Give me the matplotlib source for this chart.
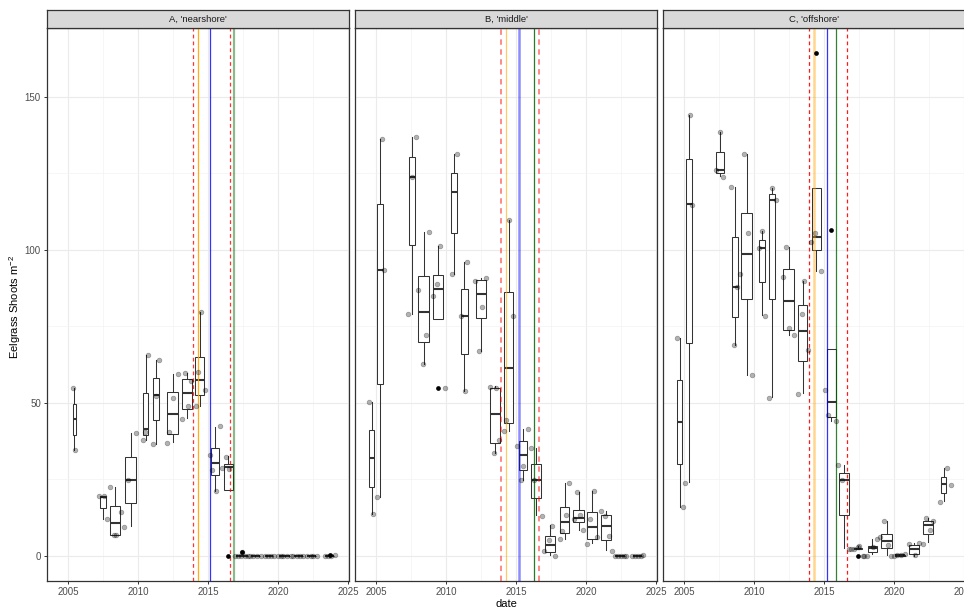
import numpy as np
import matplotlib
matplotlib.use("Agg")
import matplotlib.pyplot as plt
from matplotlib.patches import Rectangle

plt.rcParams['font.family'] = ['Liberation Sans', 'DejaVu Sans']
plt.rcParams['mathtext.default'] = 'regular'

# ---------------------------------------------------------------------------
# data (dates as decimal years, shoots per m2)
# ---------------------------------------------------------------------------
panel_titles = ["A, 'nearshore'", "B, 'middle'", "C, 'offshore'"]

# --- A, nearshore: sampling window of each box and box statistics
a_first = [2005.32, 2007.26, 2007.96, 2009.03, 2010.34, 2011.05, 2012.03, 2013.13, 2014.06,
           2015.16, 2016.06, 2016.93, 2018.02, 2019.05, 2020.00, 2021.07, 2022.02, 2023.33]
a_last = [2005.58, 2007.76, 2008.78, 2009.90, 2010.76, 2011.52, 2012.90, 2013.90, 2014.75,
          2015.82, 2016.82, 2017.86, 2018.76, 2019.69, 2020.88, 2021.79, 2022.74, 2024.05]
a_q1 = [39.4, 15.6, 6.7, 17.2, 39.4, 44.3, 39.7, 47.9, 52.7, 26.3, 21.4, 0, 0, 0, 0, 0, 0, 0]
a_med = [44.7, 19.3, 10.8, 24.9, 41.5, 52.4, 46.3, 53.1, 57.3, 30.5, 29.1, 0, 0, 0, 0, 0, 0, 0]
a_q3 = [49.6, 19.5, 16.4, 32.4, 53.1, 58.0, 53.5, 57.7, 64.9, 35.2, 29.9, 0, 0, 0, 0, 0, 0, 0]
a_lo = [34.7, 12.1, 6.7, 9.8, 37.8, 36.6, 37.1, 44.9, 48.8, 21.3, 21.4, 0, 0, 0, 0, 0, 0, 0]
a_hi = [54.8, 19.5, 22.5, 40.1, 65.5, 64.0, 59.3, 59.7, 79.5, 42.1, 32.5, 0, 0, 0, 0, 0, 0, 0]
a_out = [[], [], [], [], [], [], [], [], [], [], [0.0], [1.2], [], [], [], [], [], [0.4]]
a_pt_date = [2005.36, 2005.52, 2007.19, 2007.57, 2007.79, 2008.02, 2008.31, 2008.40, 2008.79,
             2009.00, 2009.29, 2009.83, 2010.33, 2010.52, 2010.74, 2011.05, 2011.31, 2011.50,
             2012.05, 2012.24, 2012.48, 2012.88, 2013.10, 2013.38, 2013.55, 2013.81,
             2014.10, 2014.31, 2014.52, 2014.76, 2015.14, 2015.29, 2015.55, 2015.81,
             2016.00, 2016.29, 2016.50,
             2016.93, 2017.10, 2017.31, 2017.38, 2017.62, 2017.86, 2018.02, 2018.21, 2018.45,
             2018.76, 2019.05, 2019.29, 2019.45, 2019.69, 2020.00, 2020.17, 2020.36, 2020.64,
             2020.88, 2021.07, 2021.31, 2021.55, 2021.79, 2022.02, 2022.31, 2022.50, 2022.74,
             2023.33, 2023.57, 2023.76, 2024.05]
a_pt_val = [54.8, 34.7, 19.5, 19.4, 11.9, 22.5, 6.7, 6.7, 14.3,
            9.5, 24.9, 40.1, 37.8, 40.4, 65.5, 36.4, 52.3, 64.1,
            37.0, 40.5, 51.7, 59.3, 44.6, 59.7, 49.0, 57.2,
            48.8, 60.2, 79.5, 54.1, 33.0, 27.9, 21.2, 42.3,
            28.8, 32.3, 28.4,
            0, 0, 0, 1.2, 0, 0, 0, 0, 0,
            0, 0, 0, 0, 0, 0, 0, 0, 0,
            0, 0, 0, 0, 0, 0, 0, 0, 0,
            0, 0, 0, 0.4]
a_event_date = [2013.93, 2014.29, 2015.14, 2016.57, 2016.81]
a_event_kind = ["heat", "orange", "blue", "heat", "green"]

# --- B, middle
b_first = [2004.51, 2005.07, 2007.30, 2007.98, 2009.00, 2010.35, 2011.06, 2012.06, 2013.11, 2014.11,
           2015.18, 2016.00, 2017.00, 2018.10, 2019.02, 2020.02, 2021.04, 2022.03, 2023.27]
b_last = [2004.87, 2005.55, 2007.83, 2008.82, 2009.84, 2010.77, 2011.56, 2012.90, 2013.85, 2014.82,
          2015.82, 2016.82, 2017.82, 2018.84, 2019.89, 2020.81, 2021.81, 2022.81, 2024.05]
b_q1 = [22.6, 56.2, 101.5, 69.7, 77.4, 105.4, 66.0, 77.8, 37.0, 43.4,
        28.0, 18.8, 1.2, 7.4, 11.0, 5.6, 5.2, 0, 0]
b_med = [32.1, 93.4, 123.9, 79.5, 87.1, 118.8, 78.4, 85.5, 46.5, 61.5,
         32.8, 24.8, 3.6, 11.1, 12.5, 9.3, 9.8, 0, 0]
b_q3 = [41.0, 115.0, 130.3, 91.4, 91.7, 125.0, 87.0, 90.0, 54.8, 86.3,
        37.4, 30.0, 6.4, 15.9, 14.9, 14.3, 13.2, 0, 0]
b_lo = [13.8, 19.3, 79.0, 62.6, 77.4, 92.0, 53.7, 67.0, 33.5, 40.9,
        24.8, 13.4, 0.2, 5.6, 8.6, 4.2, 1.9, 0, 0]
b_hi = [50.4, 136.1, 136.9, 105.7, 101.3, 131.2, 95.9, 90.9, 55.5, 109.7,
        41.6, 35.3, 10.0, 23.8, 21.0, 21.2, 14.5, 0, 0]
b_out = [[], [], [], [], [54.8], [], [], [], [], [], [], [], [], [], [], [], [], [], []]
b_pt_date = [2004.52, 2004.81, 2005.10, 2005.40, 2005.57, 2007.28, 2007.57, 2007.85,
             2008.02, 2008.33, 2008.56, 2008.78, 2009.04, 2009.32, 2009.54, 2009.89,
             2010.39, 2010.75, 2011.03, 2011.32, 2011.51, 2012.08, 2012.32, 2012.58, 2012.86,
             2013.12, 2013.41, 2013.53, 2013.81, 2014.10, 2014.31, 2014.52, 2014.79,
             2015.09, 2015.31, 2015.52, 2015.83, 2016.05, 2016.28, 2016.83,
             2017.00, 2017.33, 2017.59, 2017.80, 2018.11, 2018.30, 2018.54, 2018.80,
             2019.13, 2019.35, 2019.54, 2019.77, 2020.06, 2020.30, 2020.53, 2020.77,
             2021.03, 2021.37, 2021.63, 2021.82, 2022.03, 2022.27, 2022.51, 2022.67, 2022.81,
             2023.27, 2023.50, 2023.69, 2023.88, 2024.05]
b_pt_val = [50.4, 13.8, 19.3, 136.1, 93.4, 79.0, 123.9, 136.9,
            86.7, 62.6, 72.0, 105.7, 84.9, 88.7, 101.3, 54.8,
            92.0, 131.2, 78.2, 53.7, 95.9, 89.8, 67.0, 81.4, 90.9,
            55.3, 33.5, 54.8, 37.9, 40.9, 44.4, 109.7, 78.4,
            36.0, 24.8, 29.5, 41.6, 35.3, 24.8, 13.1,
            1.7, 5.3, 9.9, 0.0, 5.4, 8.2, 13.4, 23.8,
            11.9, 21.0, 13.3, 8.6, 4.0, 11.9, 21.2, 6.1,
            14.5, 13.1, 6.6, 1.5, 0, 0, 0, 0, 0,
            0, 0, 0, 0, 0.3]
b_event_date = [2013.91, 2014.24, 2015.17, 2016.28, 2016.64]
b_event_kind = ["heat", "orange", "blue", "green", "heat"]

# --- C, offshore
c_first = [2004.51, 2005.09, 2007.27, 2008.39, 2009.03, 2010.36, 2011.04, 2012.04, 2013.09, 2014.09,
           2015.15, 2016.03, 2017.11, 2018.07, 2019.03, 2020.01, 2021.05, 2022.00, 2023.30]
c_last = [2004.85, 2005.57, 2007.85, 2008.84, 2009.90, 2010.80, 2011.52, 2012.89, 2013.83, 2014.80,
          2015.86, 2016.84, 2017.75, 2018.80, 2019.88, 2020.80, 2021.77, 2022.79, 2023.74]
c_q1 = [29.9, 69.5, 125.0, 78.1, 83.9, 89.5, 84.0, 73.7, 63.8, 99.9,
        45.3, 13.4, 2.2, 1.4, 2.5, 0.1, 0.7, 7.3, 20.5]
c_med = [43.8, 115.0, 126.1, 87.7, 98.7, 100.5, 116.3, 83.1, 73.3, 104.1,
         50.2, 24.7, 2.4, 2.5, 5.0, 0.2, 2.2, 10.1, 23.5]
c_q3 = [57.4, 129.5, 132.0, 104.0, 111.9, 103.1, 118.1, 93.8, 81.9, 120.1,
        67.5, 27.1, 2.6, 3.3, 7.3, 0.4, 3.6, 11.4, 25.9]
c_lo = [16.1, 24.2, 124.0, 68.9, 59.1, 78.7, 51.8, 72.2, 53.1, 92.9,
        44.1, 2.5, 2.2, 0.7, 0.3, 0.0, 0.0, 4.4, 18.0]
c_hi = [71.1, 144.1, 138.3, 120.6, 131.2, 106.1, 120.3, 101.0, 89.9, 120.1,
        67.5, 29.7, 3.3, 5.4, 11.4, 0.7, 4.1, 12.5, 28.8]
c_out = [[], [], [], [], [], [], [], [], [], [164.2], [106.5], [], [0.1], [], [], [], [], [], []]
c_pt_date = [2004.48, 2004.91, 2005.09, 2005.43, 2005.57, 2007.30, 2007.58, 2007.80,
             2008.34, 2008.58, 2008.77, 2009.03, 2009.31, 2009.55, 2009.88,
             2010.33, 2010.59, 2010.76, 2011.04, 2011.30, 2011.56,
             2012.04, 2012.27, 2012.51, 2012.87, 2013.10, 2013.41, 2013.58, 2013.86,
             2014.05, 2014.36, 2014.79, 2015.07, 2015.28, 2015.85, 2016.00, 2016.28,
             2016.75, 2016.92, 2017.15, 2017.39, 2017.51, 2017.75, 2017.87, 2018.03, 2018.46, 2018.74,
             2019.00, 2019.29, 2019.53, 2019.76, 2019.95, 2020.19, 2020.47, 2020.76,
             2021.02, 2021.49, 2021.78, 2022.04, 2022.30, 2022.56, 2022.80,
             2023.27, 2023.74, 2024.05]
c_pt_val = [71.1, 16.1, 23.9, 144.1, 114.7, 126.1, 138.3, 123.9,
            120.6, 68.9, 87.7, 92.0, 131.2, 105.5, 59.0,
            100.5, 106.1, 78.4, 51.7, 120.3, 116.1,
            91.2, 101.0, 74.4, 72.0, 52.9, 79.0, 89.9, 67.4,
            102.4, 105.6, 92.9, 54.3, 45.9, 44.1, 29.7, 24.7,
            2.4, 2.4, 2.4, 2.9, 3.3, 0.1, 0.1, 0.0, 3.0, 5.4,
            6.1, 11.4, 3.5, 0.0, 0.0, 0.3, 0.4, 0.7,
            3.8, 0.3, 4.2, 4.0, 12.3, 8.5, 11.4,
            17.7, 28.8, 23.1]
c_event_date = [2013.92, 2014.25, 2015.20, 2015.84, 2016.62]
c_event_kind = ["heat", "orange", "blue", "green", "heat"]

x_ticks = [2005, 2010, 2015, 2020, 2025]
y_ticks = [0, 50, 100, 150]

# ---------------------------------------------------------------------------
# styles
# ---------------------------------------------------------------------------
W, H = 964, 611
BOX_COL = "#333333"
event_style = {
    "heat": dict(color="red", ls=(0, (3, 2.5)), lw=0.9),
    "orange": dict(color="orange", ls="-", lw=0.9),
    "blue": dict(color="blue", ls="-", lw=0.9),
    "green": dict(color="darkgreen", ls="-", lw=0.9),
}
# some lines look washed out in single panels
event_alpha = [
    {"heat": 0.8, "orange": 0.9, "blue": 0.8, "green": 0.45},
    {"heat": 0.5, "orange": 0.6, "blue": 0.45, "green": 0.85},
    {"heat": 0.9, "orange": 0.45, "blue": 0.8, "green": 0.8},
]
event_lw = [
    {"green": 1.6},
    {"heat": 1.3, "blue": 1.8},
    {"orange": 1.8},
]


def draw_panel(ax, first, last, q1, med, q3, lo, hi, outl, pt_date, pt_val,
               ev_date, ev_kind, k):
    first = np.asarray(first)
    last = np.asarray(last)
    mid = (first + last) / 2
    half = 0.45 * (last - first)
    for i in range(len(mid)):
        ax.add_patch(Rectangle((mid[i] - half[i], q1[i]), 2 * half[i], q3[i] - q1[i],
                               facecolor="white", edgecolor=BOX_COL, lw=0.75, zorder=2))
        ax.plot([mid[i] - half[i], mid[i] + half[i]], [med[i], med[i]], color=BOX_COL,
                lw=1.5, solid_capstyle="butt", zorder=2.2)
        ax.plot([mid[i], mid[i]], [q3[i], hi[i]], color=BOX_COL, lw=0.75, zorder=1.9)
        ax.plot([mid[i], mid[i]], [lo[i], q1[i]], color=BOX_COL, lw=0.75, zorder=1.9)
        if outl[i]:
            ax.plot([mid[i]] * len(outl[i]), outl[i], "o", color="black", ms=3.4,
                    mew=0, zorder=3.5)
    for d, kind in zip(ev_date, ev_kind):
        st = dict(event_style[kind])
        st["lw"] = event_lw[k].get(kind, st["lw"])
        ax.axvline(d, alpha=event_alpha[k][kind], zorder=3, **st)
    ax.plot(pt_date, pt_val, "o", ms=3.4, color="black", alpha=0.3, mew=0.5, zorder=4)

    ax.set_xlim(2003.5, 2025.05)
    ax.set_ylim(-8.2, 172.4)
    ax.set_xticks(x_ticks)
    ax.set_xticks([2007.5, 2012.5, 2017.5, 2022.5], minor=True)
    ax.set_yticks(y_ticks)
    ax.set_yticks([25, 75, 125], minor=True)
    ax.grid(which="major", color="#EBEBEB", lw=0.8)
    ax.grid(which="minor", color="#F2F2F2", lw=0.45)
    ax.set_axisbelow(True)
    ax.tick_params(which="major", length=2.4, width=0.7, color="#333333",
                   labelsize=7, labelcolor="#4D4D4D", pad=2)
    ax.tick_params(which="minor", length=0)
    for s in ax.spines.values():
        s.set_color("#333333")
        s.set_linewidth(0.9)


fig = plt.figure(figsize=(W / 100, H / 100), dpi=100)

panels = [
    (a_first, a_last, a_q1, a_med, a_q3, a_lo, a_hi, a_out, a_pt_date, a_pt_val,
     a_event_date, a_event_kind),
    (b_first, b_last, b_q1, b_med, b_q3, b_lo, b_hi, b_out, b_pt_date, b_pt_val,
     b_event_date, b_event_kind),
    (c_first, c_last, c_q1, c_med, c_q3, c_lo, c_hi, c_out, c_pt_date, c_pt_val,
     c_event_date, c_event_kind),
]
lefts = [47, 355, 663]
pw = 302
top, bottom = 28, 581
strip_top = 10

for k, (left, data) in enumerate(zip(lefts, panels)):
    ax = fig.add_axes([left / W, (H - bottom) / H, pw / W, (bottom - top) / H])
    draw_panel(ax, *data, k)
    if k > 0:
        ax.tick_params(axis="y", labelleft=False, length=0)
    sax = fig.add_axes([left / W, (H - top) / H, pw / W, (top - strip_top) / H])
    sax.set_facecolor("#D9D9D9")
    sax.set_xticks([])
    sax.set_yticks([])
    for s in sax.spines.values():
        s.set_color("#333333")
        s.set_linewidth(0.9)
    sax.text(0.5, 0.5, panel_titles[k], ha="center", va="center", fontsize=6.8,
             color="#1A1A1A", transform=sax.transAxes)

fig.text(15 / W, (H - 307) / H, "Eelgrass Shoots m$^{-2}$", rotation=90,
         ha="center", va="center", fontsize=8, color="black")
fig.text(506 / W, (H - 604) / H, "date", ha="center", va="center", fontsize=8,
         color="black")

fig.savefig("out.png", dpi=100)
